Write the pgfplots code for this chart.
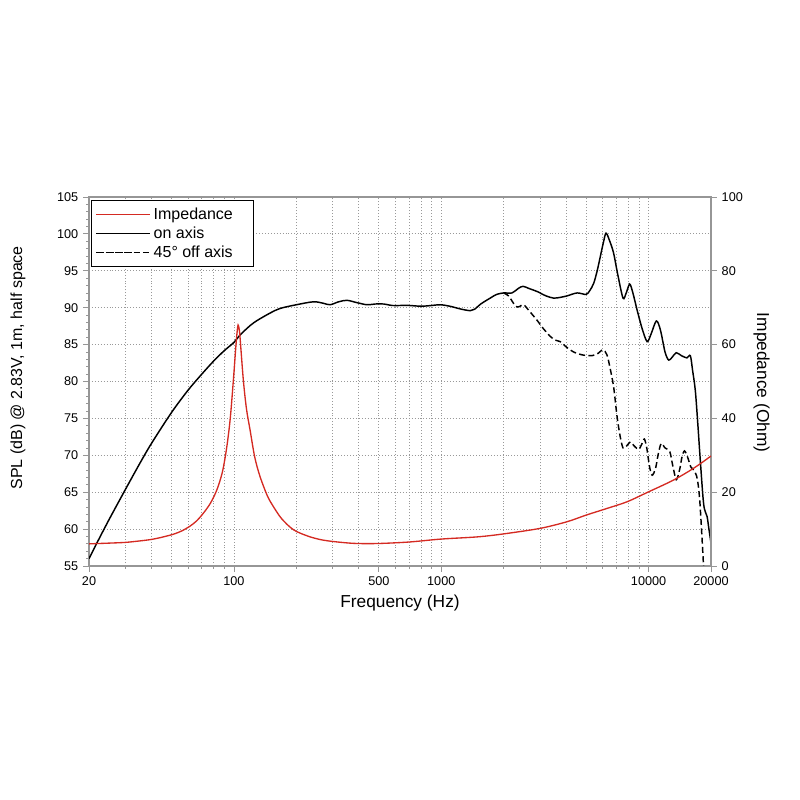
\documentclass[border=0pt]{standalone}
\usepackage{fontspec}
\setmainfont{Liberation Sans}
\usepackage{pgfplots}
\pgfplotsset{compat=1.18}
\pgfkeys{/pgf/number format/assume math mode=true}
\definecolor{impred}{RGB}{212,42,34}
\definecolor{axgray}{RGB}{150,150,150}
\begin{document}
\begin{tikzpicture}
\useasboundingbox (0,0) rectangle (600pt,600pt);
\begin{axis}[
  at={(66.75pt,175.5pt)}, anchor=south west, scale only axis,
  width=466.5pt, height=276.75pt,
  xmode=log, xmin=20, xmax=20000,
  axis line style={axgray, line width=0.8pt},
  tick style={axgray, line width=0.6pt},
  tick align=outside,
  major tick length=4.5pt, minor tick length=2pt,
  ticklabel style={font=\fontsize{9.5}{11}\selectfont},
  ymin=55, ymax=105, ytick={55,60,...,105}, minor y tick num=4,
  xtick={20,100,500,1000,10000,20000},
  xticklabels={20,100,500,1000,10000,20000},
  minor xtick={30,40,50,60,70,80,90,200,300,400,600,700,800,900,2000,3000,4000,5000,6000,7000,8000,9000},
  xmajorgrids, xminorgrids, ymajorgrids,
  major grid style={gray!80, dash pattern=on 0.7pt off 1.5pt, line width=0.6pt},
  minor grid style={gray!80, dash pattern=on 0.7pt off 1.5pt, line width=0.6pt},
  ytick pos=left, xtick pos=bottom,
  xlabel={Frequency (Hz)}, ylabel={SPL (dB) @ 2.83V, 1m, half space},
  xlabel style={font=\fontsize{13}{15}\selectfont, at={(axis description cs:0.5,-0.100)}, anchor=center},
  ylabel style={font=\fontsize{12}{14}\selectfont, at={(axis description cs:-0.1141,0.537)}, anchor=center},
  legend cell align=left,
  legend image code/.code={\path (-1.5pt,0pt) -- (39pt,0pt); \draw[#1] (0pt,0pt) -- (30pt,0pt);},
  legend style={at={(axis description cs:0.0035,0.992)}, anchor=north west,
    draw=black, line width=0.6pt, font=\fontsize{12}{14}\selectfont, inner ysep=3.5pt},
]
\addlegendimage{impred, line width=1pt}
\addlegendentry{\makebox[70pt][l]{Impedance}}
\addplot[black, line width=1.1pt, smooth, tension=0.5] coordinates {
(20,56.0) (22,58.3) (25,61.3) (30,65.4) (35,68.8) (40,71.6) (50,75.8) (60,78.8)
(70,81.0) (80,82.8) (90,84.2) (100,85.3) (107,86.3) (120,87.6) (130,88.3) (150,89.3)
(167,89.9) (200,90.4) (242,90.8) (270,90.6) (291,90.4) (320,90.8) (351,91.0) (390,90.7)
(438,90.4) (480,90.5) (527,90.5) (580,90.3) (634,90.3) (700,90.3) (800,90.2) (900,90.3)
(989,90.4) (1100,90.2) (1250,89.8) (1380,89.6) (1450,89.8) (1550,90.5) (1722,91.3)
(1850,91.8) (2000,92.0) (2194,92.0) (2350,92.6) (2479,92.9) (2650,92.6) (2897,92.2)
(3200,91.6) (3485,91.3) (3750,91.4) (4044,91.6) (4520,92.0) (4993,91.8) (5200,92.3)
(5435,93.3) (5650,95.0) (5847,96.9) (6050,98.8) (6234,100.1) (6500,99.0) (6780,97.4)
(7100,94.5) (7530,91.3) (7800,92.0) (8108,93.2) (8400,92.0) (8800,89.7) (9300,87.2)
(9840,85.4) (10300,86.5) (10900,88.2) (11400,87.0) (12000,84.0) (12500,82.9) (13000,83.3)
(13600,83.9) (14400,83.5) (15300,83.2) (15900,83.5) (16300,81.5) (16800,78.8) (17300,74.0)
(17800,68.9) (18450,63.3) (19150,61.7) (19500,60.2) (20000,58.1)
};
\addlegendentry{on axis}
\addplot[black, line width=1.1pt, dash pattern=on 4.5pt off 2.5pt, smooth, tension=0.5] coordinates {
(2000,92.0) (2113,91.6) (2230,90.6) (2318,90.1) (2400,90.2) (2496,90.4) (2650,89.6)
(2897,88.3) (3100,87.2) (3360,86.1) (3550,85.6) (3750,85.4) (4000,84.7) (4350,84.0)
(4800,83.6) (5330,83.5) (5700,83.8) (6030,84.3) (6300,83.6) (6500,82.0) (6780,79.3)
(7050,75.2) (7300,72.5) (7530,71.0) (7800,71.2) (8170,71.8) (8500,71.3) (8960,70.8)
(9300,71.6) (9540,72.2) (9800,71.0) (10100,68.5) (10400,67.3) (10800,68.2) (11100,70.0)
(11500,71.6) (12000,71.0) (12650,70.5) (13100,68.5) (13600,66.7) (14100,68.0) (14500,69.8)
(14900,70.6) (15400,69.8) (16000,68.4) (16500,68.0) (17000,67.3) (17350,66.0) (17650,63.9)
(18000,60.0) (18450,54.5)
};
\addlegendentry{45° off axis}
\end{axis}
\begin{axis}[
  at={(66.75pt,175.5pt)}, anchor=south west, scale only axis,
  width=466.5pt, height=276.75pt,
  xmode=log, xmin=20, xmax=20000,
  axis line style={axgray, line width=0.8pt},
  tick style={axgray, line width=0.6pt},
  tick align=outside,
  major tick length=4.5pt,
  ticklabel style={font=\fontsize{9.5}{11}\selectfont},
  ymin=0, ymax=100, ytick={0,20,...,100},
  axis y line*=right, axis x line=none,
  ylabel={Impedance (Ohm)},
  ylabel style={font=\fontsize{13}{15}\selectfont, at={(axis description cs:1.0815,0.497)}, anchor=center, rotate=180},
]
\addplot[impred, line width=1pt, smooth, tension=0.5] coordinates {
(20,6.0) (25,6.2) (30,6.4) (35.2,6.8) (40,7.2) (45,7.8) (51,8.6) (56,9.5) (61.4,10.8)
(66,12.2) (71.2,14.3) (77,17.0) (82.7,20.6) (88,25.5) (92.4,32.3) (96,40.0) (99.4,50.4)
(102,59.0) (103.5,63.2) (104.7,65.3) (106,64.2) (107,62.0) (111,50.4) (115,42.5) (119.6,36.9)
(126,29.5) (133.7,24.2) (145,19.0) (155,16.1) (170,12.8) (194,9.8) (230,8.0) (270,7.0)
(330,6.4) (392,6.1) (500,6.1) (700,6.5) (1000,7.3) (1500,7.9) (2000,8.7) (3000,10.2)
(4044,12.0) (5000,13.8) (6300,15.6) (7870,17.4) (10000,20.1) (13200,23.3) (16500,26.5)
(20000,29.8)
};
\end{axis}
\end{tikzpicture}
\end{document}
